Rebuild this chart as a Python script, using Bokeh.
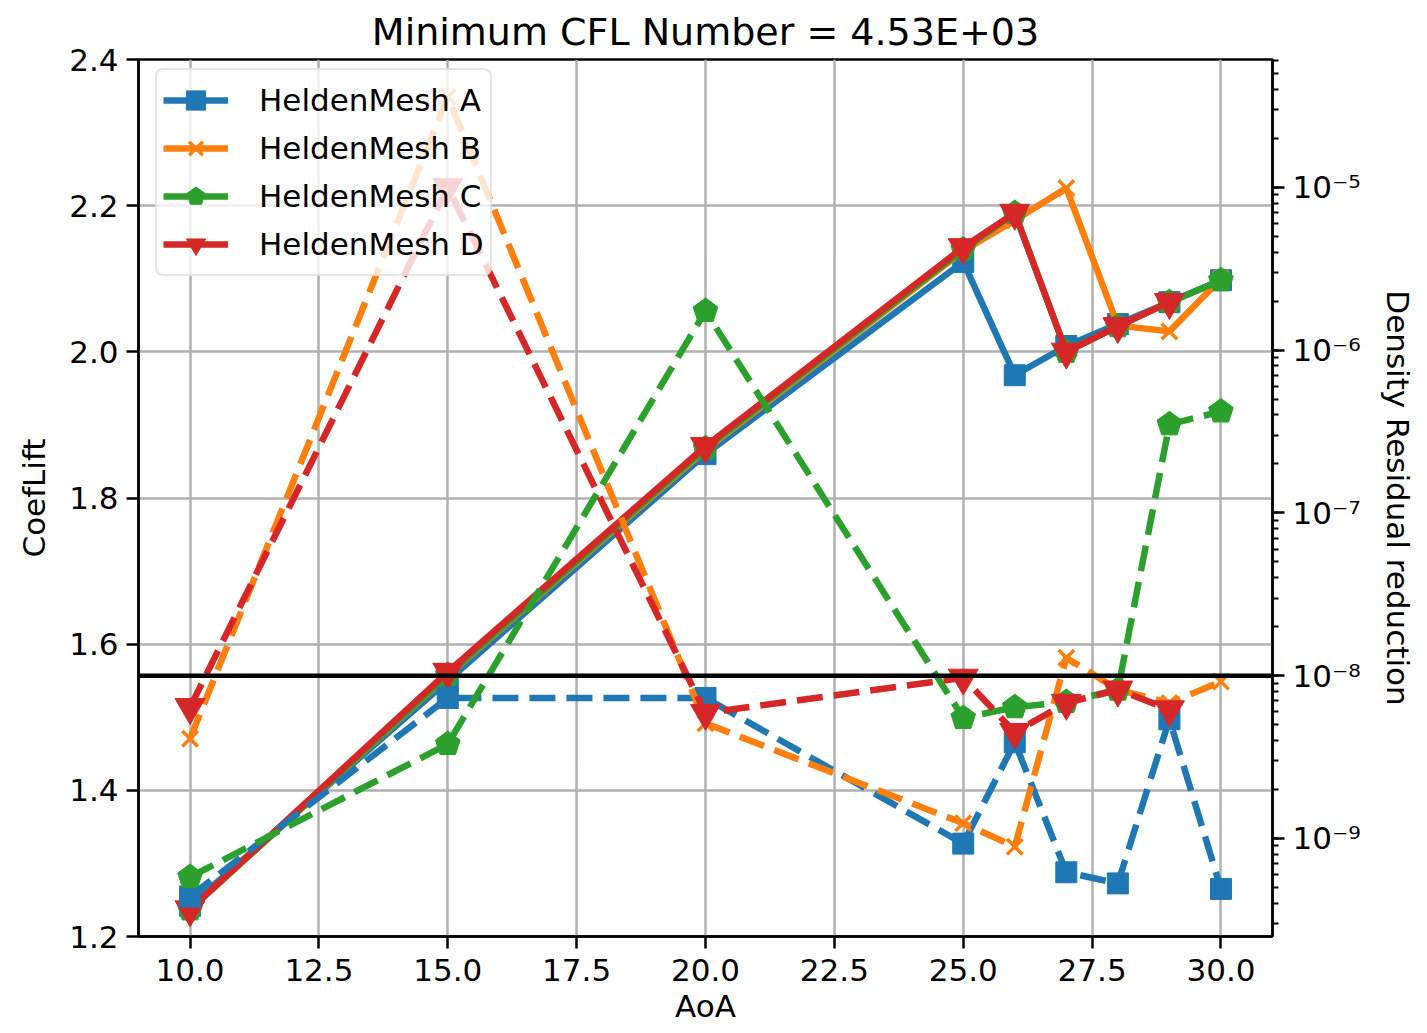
from bokeh.plotting import figure
from bokeh.models import (Range1d, LogScale, LogAxis, FixedTicker, PrintfTickFormatter,
                          CustomJSTickFormatter, Span, Legend, LegendItem)
from bokeh.embed import file_html
from bokeh.resources import INLINE

# ---------------- data ----------------
aoa = [10, 15, 20, 25, 26, 27, 28, 29, 30]
aoa_d = [10, 15, 20, 25, 26, 27, 28, 29]

names = ["HeldenMesh A", "HeldenMesh B", "HeldenMesh C", "HeldenMesh D"]

cl_a = [1.242, 1.550, 1.860, 2.123, 1.968, 2.008, 2.038, 2.068, 2.098]
cl_b = [1.237, 1.557, 1.866, 2.138, 2.180, 2.224, 2.036, 2.028, 2.100]
cl_c = [1.237, 1.558, 1.868, 2.140, 2.190, 2.000, 2.035, 2.068, 2.098]
cl_d = [1.237, 1.562, 1.871, 2.143, 2.190, 2.000, 2.035, 2.068]

res_a = [4.4e-10, 7.3e-9, 7.3e-9, 9.3e-10, 3.9e-9, 6.2e-10, 5.3e-10, 5.4e-9, 4.9e-10]
res_b = [4.1e-9, 3.6e-5, 5.1e-9, 1.24e-9, 8.9e-10, 1.29e-8, 8.2e-9, 6.8e-9, 9.2e-9]
res_c = [5.8e-10, 3.8e-9, 1.74e-6, 5.5e-9, 6.4e-9, 6.9e-9, 8.2e-9, 3.5e-7, 4.2e-7]
res_d = [6.4e-9, 1.0e-5, 5.9e-9, 9.7e-9, 4.5e-9, 6.8e-9, 8.2e-9, 6.2e-9]

min_residual = 1e-8
title_text = "Minimum CFL Number = 4.53E+03"
right_label = "Density Residual reduction"

x_ticks = [10.0, 12.5, 15.0, 17.5, 20.0, 22.5, 25.0, 27.5, 30.0]
y_ticks = [1.2, 1.4, 1.6, 1.8, 2.0, 2.2, 2.4]
res_ticks = [1e-9, 1e-8, 1e-7, 1e-6, 1e-5]
res_minor = [k * 10.0 ** e for e in range(-11, -3) for k in range(1, 10)]

colors = ["#1f77b4", "#ff7f0e", "#2ca02c", "#d62728"]

FONT = "DejaVu Sans"
FS = "31px"

p = figure(width=1427, height=1033, x_range=Range1d(9, 31), y_range=Range1d(1.2, 2.4),
           output_backend="svg", toolbar_location=None,
           min_border_left=138, min_border_right=155, min_border_top=59, min_border_bottom=97)
p.extra_y_ranges = {"res": Range1d(2.5e-10, 6.1e-5)}
p.extra_y_scales = {"res": LogScale()}

p.title.text = title_text
p.title.align = "center"
p.title.text_font = FONT
p.title.text_font_size = "38px"
p.title.text_font_style = "normal"
p.title.text_color = "black"
p.title.standoff = 12

p.outline_line_color = "black"
p.outline_line_width = 2.5
p.outline_line_alpha = 1.0
p.background_fill_color = "white"
p.border_fill_color = "white"

p.xaxis.ticker = FixedTicker(ticks=x_ticks)
p.xaxis.formatter = PrintfTickFormatter(format="%.1f")
p.yaxis.ticker = FixedTicker(ticks=y_ticks)
p.yaxis.formatter = PrintfTickFormatter(format="%.1f")
p.xaxis.axis_label = "AoA"
p.yaxis.axis_label = "CoefLift"

raxis = LogAxis(y_range_name="res", ticker=FixedTicker(ticks=res_ticks, minor_ticks=res_minor))
raxis.formatter = CustomJSTickFormatter(code="""
const sup = {"-": "\u207b", "0": "\u2070", "1": "\u00b9", "2": "\u00b2", "3": "\u00b3",
             "4": "\u2074", "5": "\u2075", "6": "\u2076", "7": "\u2077", "8": "\u2078", "9": "\u2079"};
const e = Math.round(Math.log10(tick));
return "10" + String(e).split("").map(c => sup[c]).join("");
""")
raxis.axis_label = right_label
p.add_layout(raxis, "right")

for ax in [p.xaxis[0], p.yaxis[0], raxis]:
    ax.axis_line_color = "black"
    ax.axis_line_width = 2.5
    ax.major_tick_line_color = "black"
    ax.major_tick_line_width = 2.5
    ax.major_tick_out = 12
    ax.major_tick_in = 0
    ax.major_label_text_font = FONT
    ax.major_label_text_font_size = FS
    ax.major_label_text_color = "black"
    ax.axis_label_text_font = FONT
    ax.axis_label_text_font_size = FS
    ax.axis_label_text_font_style = "normal"
    ax.axis_label_text_color = "black"
    ax.major_label_standoff = 8
    ax.axis_label_standoff = 6
p.xaxis.major_label_standoff = 10
p.xaxis.axis_label_standoff = 4
p.yaxis.axis_label_standoff = 14
raxis.axis_label_standoff = 16
p.xaxis.minor_tick_line_color = None
p.yaxis.minor_tick_line_color = None
raxis.minor_tick_line_color = "black"
raxis.minor_tick_line_width = 2
raxis.minor_tick_out = 6
raxis.minor_tick_in = 0

p.xgrid.ticker = FixedTicker(ticks=x_ticks)
p.ygrid.ticker = FixedTicker(ticks=y_ticks)
for g in [p.xgrid[0], p.ygrid[0]]:
    g.grid_line_color = "#b0b0b0"
    g.grid_line_width = 2.5

LW = 6.5
DASH = "26 11"
HAS_NGON = hasattr(p, "ngon")


def markers(x, y, kind, color, rng="default"):
    if kind == "square":
        return p.scatter(x, y, marker="square", size=21, fill_color=color, line_color=color,
                         y_range_name=rng)
    if kind == "x":
        return p.scatter(x, y, marker="x", size=22, line_color=color, line_width=3.5,
                         y_range_name=rng)
    if kind == "tri":
        return p.scatter(x, y, marker="inverted_triangle", size=30, fill_color=color,
                         line_color=color, y_range_name=rng)
    if HAS_NGON:
        return p.ngon(x=x, y=y, radius=13, radius_units="screen", n=5, angle=0.0,
                      fill_color=color, line_color=color, y_range_name=rng)
    return p.scatter(x, y, marker="hex", size=24, fill_color=color, line_color=color,
                     y_range_name=rng)


kinds = ["square", "x", "pent", "tri"]
cls = [cl_a, cl_b, cl_c, cl_d]
ress = [res_a, res_b, res_c, res_d]
xs = [aoa, aoa, aoa, aoa_d]

items = []
for name, x, cl, kind, col in zip(names, xs, cls, kinds, colors):
    ln = p.line(x, cl, line_color=col, line_width=LW)
    mk = markers(x, cl, kind, col)
    items.append(LegendItem(label=name, renderers=[ln, mk]))

for x, r, kind, col in zip(xs, ress, kinds, colors):
    p.line(x, r, line_color=col, line_width=LW, line_dash=DASH, y_range_name="res")
    markers(x, r, kind, col, rng="res")

p.add_layout(Span(location=min_residual, dimension="width", y_range_name="res",
                  line_color="black", line_width=4.5))

legend = Legend(items=items, location=(17, 660))
legend.label_text_font = FONT
legend.label_text_font_size = FS
legend.label_text_color = "black"
legend.border_line_color = "#cccccc"
legend.border_line_width = 2
legend.border_radius = 8
legend.background_fill_color = "white"
legend.background_fill_alpha = 0.8
legend.margin = 0
legend.padding = 6
legend.spacing = 0
legend.glyph_width = 65
legend.glyph_height = 48
legend.label_height = 48
legend.label_standoff = 31
p.add_layout(legend)

open("out.html", "w").write(file_html(p, INLINE))
